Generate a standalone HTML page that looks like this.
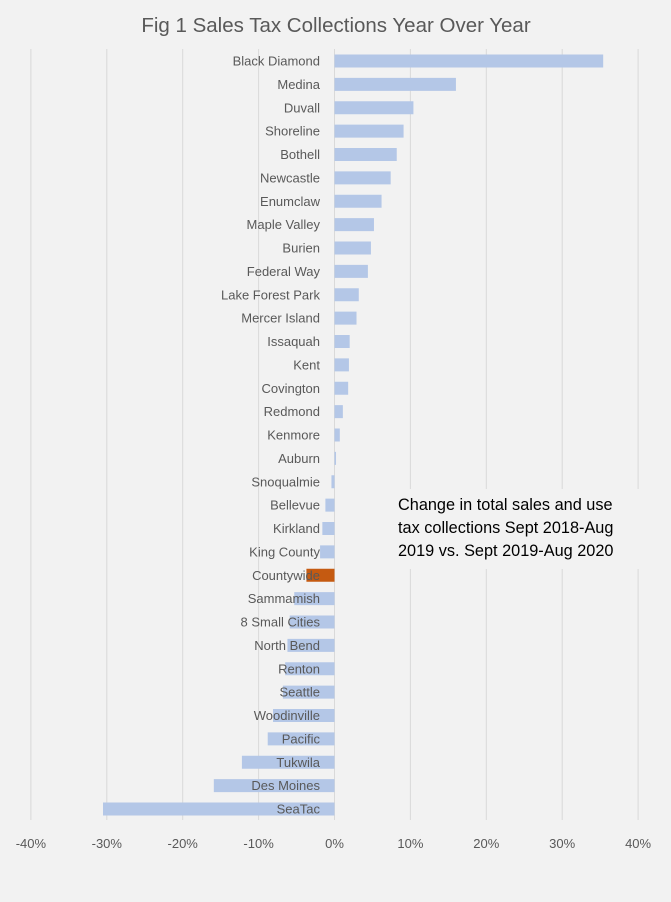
<!DOCTYPE html>
<html><head><meta charset="utf-8"><style>
html,body{margin:0;padding:0;background:#f2f2f2;}
svg{display:block;font-family:"Liberation Sans",sans-serif;}
</style></head><body>
<svg id="chart" width="671" height="902" viewBox="0 0 671 902">
<rect x="0" y="0" width="671" height="902" fill="#f2f2f2"/>
<text x="336" y="32" text-anchor="middle" font-size="20.5" fill="#595959">Fig 1 Sales Tax Collections Year Over Year</text>
<g id="grid"></g>
<g id="bars"></g>
<g id="labels"></g>
<g id="ticks"></g>
<rect x="386" y="489" width="256" height="80" fill="#f2f2f2"/>
<text font-size="16.3" fill="#000">
<tspan x="398" y="510">Change in total sales and use</tspan>
<tspan x="398" y="533">tax collections Sept 2018-Aug</tspan>
<tspan x="398" y="556">2019 vs. Sept 2019-Aug 2020</tspan>
</text>
</svg>
<script>
const categories=["Black Diamond","Medina","Duvall","Shoreline","Bothell","Newcastle","Enumclaw","Maple Valley","Burien","Federal Way","Lake Forest Park","Mercer Island","Issaquah","Kent","Covington","Redmond","Kenmore","Auburn","Snoqualmie","Bellevue","Kirkland","King County","Countywide","Sammamish","8 Small Cities","North Bend","Renton","Seattle","Woodinville","Pacific","Tukwila","Des Moines","SeaTac"];
const values=[35.4,16.0,10.4,9.1,8.2,7.4,6.2,5.2,4.8,4.4,3.2,2.9,2.0,1.9,1.8,1.1,0.7,0.2,-0.4,-1.2,-1.6,-1.9,-3.7,-5.3,-5.9,-6.2,-6.5,-6.8,-8.1,-8.8,-12.2,-15.9,-30.5];
const tickValues=[-40,-30,-20,-10,0,10,20,30,40];
const tickLabels=["-40%","-30%","-20%","-10%","0%","10%","20%","30%","40%"];
const highlight="Countywide";
const NS="http://www.w3.org/2000/svg";
function xs(v){return 334.5+v*7.59;}
function ys(i){return 61+i*((809-61)/(categories.length-1));}
function mk(tag,attrs,parent){const e=document.createElementNS(NS,tag);for(const k in attrs)e.setAttribute(k,attrs[k]);document.getElementById(parent).appendChild(e);return e;}
tickValues.forEach((t,i)=>{
  const g=mk("line",{x1:xs(t),x2:xs(t),y1:49,y2:820,stroke:"#d9d9d9","stroke-width":1},"grid");
  
  
  const tl=mk("text",{x:xs(t),y:848,"text-anchor":"middle","font-size":13,fill:"#595959"},"ticks");
  tl.textContent=tickLabels[i];
  
  
});
categories.forEach((c,i)=>{
  const v=values[i];const y=ys(i);
  const x0=Math.min(xs(0),xs(v)),w=Math.abs(xs(v)-xs(0));
  const b=mk("rect",{x:x0,y:y-6.5,width:Math.max(w,1),height:13,fill:c===highlight?"#c55a11":"#b4c7e7"},"bars");
  
  
  const l=mk("text",{x:320,y:y+4.5,"text-anchor":"end","font-size":13,fill:"#595959"},"labels");
  l.textContent=c;
  
  
});
</script>
</body></html>
